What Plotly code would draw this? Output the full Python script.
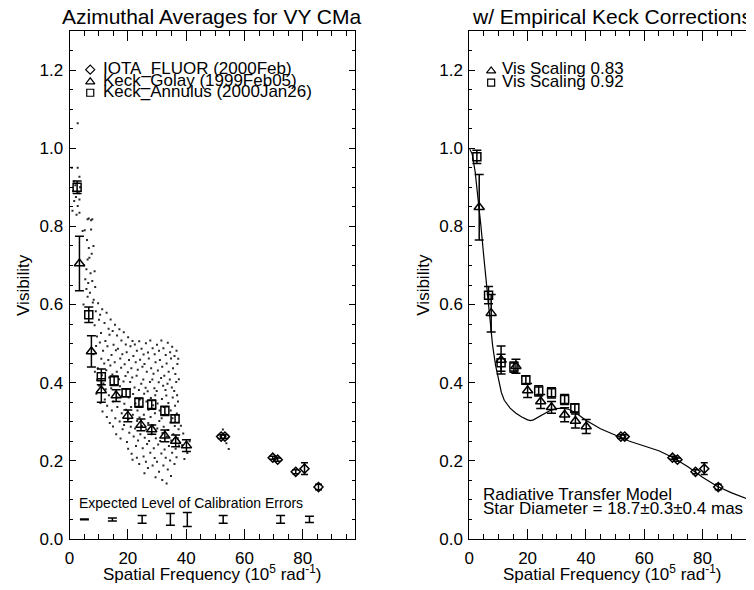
import plotly.graph_objects as go

# ---------------- data ----------------
# Keck_Annulus (squares) raw azimuthal averages
sq_x = [2.6, 6.6, 10.9, 15.3, 19.4, 23.8, 28.2, 32.7, 36.2]
sq_y = [0.900, 0.574, 0.415, 0.405, 0.374, 0.349, 0.344, 0.328, 0.308]
sq_err = [0.016, 0.020, 0.020, 0.012, 0.010, 0.012, 0.012, 0.012, 0.010]

# Keck_Golay (triangles) raw azimuthal averages
tri_x = [3.4, 7.5, 10.9, 16.0, 20.0, 24.5, 28.2, 32.7, 36.4, 40.1]
tri_y = [0.705, 0.480, 0.380, 0.367, 0.315, 0.292, 0.280, 0.264, 0.251, 0.239]
tri_err = [0.070, 0.040, 0.030, 0.015, 0.015, 0.015, 0.012, 0.015, 0.015, 0.015]

# IOTA_FLUOR (diamonds)
dia_x = [52.0, 53.3, 69.7, 71.4, 77.6, 80.6, 85.4]
dia_y = [0.262, 0.262, 0.208, 0.203, 0.172, 0.180, 0.133]
dia_err = [0.005, 0.005, 0.004, 0.004, 0.005, 0.015, 0.007]

# Corrected Keck values (right panel)
sq_corr_y = [0.978, 0.624, 0.451, 0.440, 0.407, 0.379, 0.374, 0.357, 0.335]
sq_corr_err = [0.017, 0.022, 0.022, 0.013, 0.011, 0.013, 0.013, 0.013, 0.011]
tri_corr_y = [0.849, 0.578, 0.458, 0.442, 0.380, 0.352, 0.337, 0.318, 0.302, 0.288]
tri_corr_err = [0.084, 0.048, 0.036, 0.018, 0.018, 0.018, 0.015, 0.018, 0.018, 0.018]

# Expected calibration error bars
cal_x = [5.1, 14.7, 24.9, 34.6, 40.4, 52.7, 72.4, 82.3]
cal_err = [0.001, 0.004, 0.010, 0.015, 0.018, 0.010, 0.010, 0.008]
cal_level = [0.05] * len(cal_x)

# Radiative transfer model curve
model_x = [0, 1, 2, 3, 4, 5, 6, 7, 8, 9, 10, 11, 12, 14, 16, 18, 20, 21, 22, 24, 26,
           28, 30, 32, 34, 36, 38, 40, 45, 50, 55, 60, 65, 70, 75, 80, 85, 90, 95, 98]
model_y = [1.0, 0.985, 0.94, 0.875, 0.80, 0.72, 0.64, 0.56, 0.495, 0.445, 0.405, 0.375,
           0.355, 0.335, 0.322, 0.312, 0.305, 0.303, 0.305, 0.314, 0.323, 0.330, 0.334,
           0.335, 0.332, 0.325, 0.315, 0.304, 0.282, 0.265, 0.250, 0.238, 0.226, 0.208,
           0.185, 0.158, 0.135, 0.118, 0.104, 0.095]

# Raw visibility scatter (individual points)
raw_dots = [
    (2.8, 1.064), (0.8, 0.95), (2.8, 0.95), (3.4, 0.927), (1.5, 0.915), (2.0, 0.905),
    (3.6, 0.90), (1.2, 0.89), (3.2, 0.885), (2.2, 0.875), (1.6, 0.865), (3.4, 0.869),
    (2.8, 0.852), (3.4, 0.835), (1.0, 0.84), (2.4, 0.83),
    (6.2, 0.818), (6.6, 0.82), (7.4, 0.816), (7.8, 0.818), (4.5, 0.788), (5.2, 0.79),
    (7.4, 0.792), (6.0, 0.765), (6.6, 0.745), (8.2, 0.75), (7.6, 0.73), (6.8, 0.72),
    (6.2, 0.715), (5.0, 0.70), (5.8, 0.69), (7.2, 0.68), (8.6, 0.685), (5.4, 0.665),
    (6.4, 0.655), (7.8, 0.66), (8.8, 0.645), (5.8, 0.64), (7.0, 0.63), (6.2, 0.62),
    (4.8, 0.60), (8.0, 0.605),
    (8.3, 0.612), (8.6, 0.547), (8.2, 0.473), (8.7, 0.428),
    (9.0, 0.583), (9.4, 0.518), (9.1, 0.494), (9.5, 0.407), (9.2, 0.372),
    (9.8, 0.603), (10.1, 0.561), (9.7, 0.437), (10.2, 0.392),
    (10.5, 0.574), (10.8, 0.527), (10.4, 0.503), (10.9, 0.461), (10.6, 0.348),
    (11.2, 0.588), (11.5, 0.482), (11.1, 0.419), (11.6, 0.398), (11.3, 0.326),
    (12.0, 0.553), (12.3, 0.507), (11.9, 0.449), (12.4, 0.383), (12.1, 0.357),
    (12.7, 0.579), (13.0, 0.493), (12.6, 0.432), (12.9, 0.341), (12.8, 0.312),
    (13.4, 0.538), (13.7, 0.523), (13.3, 0.458), (13.6, 0.413), (13.5, 0.368), (13.8, 0.297),
    (14.1, 0.562), (14.4, 0.471), (14.0, 0.444), (14.3, 0.386), (14.5, 0.329),
    (14.8, 0.532), (15.1, 0.497), (14.7, 0.421), (15.0, 0.352), (14.9, 0.288),
    (15.6, 0.548), (15.9, 0.483), (15.5, 0.452), (15.8, 0.377), (15.7, 0.309), (16.0, 0.268),
    (16.3, 0.521), (16.6, 0.487), (16.2, 0.428), (16.5, 0.362), (16.4, 0.338),
    (17.1, 0.537), (17.4, 0.462), (17.0, 0.409), (17.3, 0.391), (17.2, 0.301), (17.5, 0.257),
    (17.8, 0.508), (18.1, 0.473), (17.7, 0.438), (18.0, 0.367), (17.9, 0.322), (18.2, 0.281),
    (18.6, 0.529), (18.9, 0.447), (18.5, 0.403), (18.8, 0.346), (18.7, 0.292),
    (19.3, 0.498), (19.6, 0.478), (19.2, 0.417), (19.5, 0.383), (19.4, 0.331), (19.7, 0.248),
    (20.1, 0.516), (20.4, 0.458), (20.0, 0.427), (20.3, 0.362), (20.2, 0.307), (20.5, 0.272),
    (20.1, 0.231),
    (20.9, 0.493), (21.2, 0.437), (20.8, 0.402), (21.1, 0.338), (21.0, 0.287), (21.3, 0.218),
    (21.6, 0.507), (21.9, 0.468), (21.5, 0.413), (21.8, 0.371), (21.7, 0.318), (22.0, 0.262),
    (21.6, 0.203),
    (22.4, 0.498), (22.7, 0.452), (22.3, 0.388), (22.6, 0.347), (22.5, 0.283), (22.8, 0.238),
    (23.1, 0.482), (23.4, 0.433), (23.0, 0.418), (23.3, 0.329), (23.2, 0.302), (23.5, 0.252),
    (23.1, 0.208),
    (23.9, 0.506), (24.2, 0.459), (23.8, 0.381), (24.1, 0.357), (24.0, 0.311), (24.3, 0.268),
    (23.9, 0.192),
    (24.7, 0.487), (25.0, 0.441), (24.6, 0.397), (24.9, 0.338), (24.8, 0.289), (25.1, 0.232),
    (25.4, 0.472), (25.7, 0.448), (25.3, 0.408), (25.6, 0.372), (25.5, 0.318), (25.8, 0.259),
    (25.4, 0.211), (25.7, 0.168),
    (26.2, 0.501), (26.5, 0.428), (26.1, 0.387), (26.4, 0.352), (26.3, 0.281), (26.6, 0.243),
    (26.2, 0.198),
    (26.9, 0.477), (27.2, 0.462), (26.8, 0.378), (27.1, 0.331), (27.0, 0.297), (27.3, 0.251),
    (26.9, 0.182),
    (27.7, 0.508), (28.0, 0.437), (27.6, 0.402), (27.9, 0.361), (27.8, 0.312), (28.1, 0.268),
    (27.7, 0.221),
    (28.5, 0.488), (28.8, 0.423), (28.4, 0.408), (28.7, 0.342), (28.6, 0.291), (28.9, 0.232),
    (28.5, 0.188),
    (29.2, 0.473), (29.5, 0.452), (29.1, 0.386), (29.4, 0.368), (29.3, 0.322), (29.6, 0.258),
    (29.2, 0.207), (29.5, 0.158),
    (30.0, 0.497), (30.3, 0.431), (29.9, 0.379), (30.2, 0.347), (30.1, 0.283), (30.4, 0.242),
    (30.0, 0.198),
    (30.7, 0.482), (31.0, 0.458), (30.6, 0.401), (30.9, 0.329), (30.8, 0.302), (31.1, 0.251),
    (30.7, 0.172),
    (31.5, 0.508), (31.8, 0.441), (31.4, 0.412), (31.7, 0.358), (31.6, 0.309), (31.9, 0.271),
    (31.5, 0.219), (31.8, 0.151),
    (32.2, 0.488), (32.5, 0.418), (32.1, 0.392), (32.4, 0.338), (32.3, 0.287), (32.6, 0.229),
    (32.2, 0.188),
    (33.0, 0.471), (33.3, 0.449), (32.9, 0.381), (33.2, 0.367), (33.1, 0.318), (33.4, 0.262),
    (33.0, 0.208), (33.3, 0.142),
    (33.7, 0.502), (34.0, 0.428), (33.6, 0.397), (33.9, 0.348), (33.8, 0.279), (34.1, 0.238),
    (33.7, 0.178),
    (34.5, 0.478), (34.8, 0.462), (34.4, 0.408), (34.7, 0.329), (34.6, 0.298), (34.9, 0.252),
    (34.5, 0.201), (34.8, 0.161),
    (35.2, 0.492), (35.5, 0.437), (35.1, 0.388), (35.4, 0.362), (35.3, 0.309), (35.6, 0.268),
    (35.2, 0.221),
    (36.0, 0.468), (36.3, 0.422), (35.9, 0.379), (36.2, 0.341), (36.1, 0.289), (36.4, 0.231),
    (36.0, 0.192),
    (36.7, 0.482), (37.0, 0.448), (36.6, 0.402), (36.9, 0.368), (36.8, 0.321), (37.1, 0.258),
    (36.7, 0.209),
    (37.3, 0.461), (37.5, 0.409), (37.2, 0.352), (37.4, 0.281), (37.5, 0.239),
    (38.2, 0.29), (39.0, 0.27), (38.6, 0.24), (40.4, 0.22), (39.4, 0.205), (41.2, 0.25),
    (52.6, 0.28), (53.8, 0.245), (54.6, 0.23),
]

left_legend = ["IOTA_FLUOR (2000Feb)", "Keck_Golay (1999Feb05)", "Keck_Annulus (2000Jan26)"]
right_legend = ["Vis Scaling 0.83", "Vis Scaling 0.92"]

# ---------------- figure ----------------
# the page has an 8px body margin, so the figure is sized to end at the window edge
OFF = 8
W, H = 754 - OFF, 590 - OFF
FONT = "Liberation Sans, Arial, Helvetica, sans-serif"
fig = go.Figure()


def err(vals, w=4.5, t=1.5):
    return dict(type="data", array=vals, visible=True, color="black", thickness=t, width=w)


# left panel
fig.add_trace(go.Scatter(x=[d[0] for d in raw_dots], y=[d[1] for d in raw_dots], mode="markers",
                         marker=dict(symbol="square", size=2, color="#2a2a2a", line=dict(width=0)),
                         xaxis="x", yaxis="y"))
fig.add_trace(go.Scatter(x=sq_x, y=sq_y, error_y=err(sq_err), mode="markers",
                         marker=dict(symbol="square-open", size=8, color="black", line=dict(width=1.5)),
                         xaxis="x", yaxis="y"))
fig.add_trace(go.Scatter(x=tri_x, y=tri_y, error_y=err(tri_err), mode="markers",
                         marker=dict(symbol="triangle-up-open", size=9, color="black", line=dict(width=1.5)),
                         xaxis="x", yaxis="y"))
fig.add_trace(go.Scatter(x=dia_x, y=dia_y, error_y=err(dia_err, w=3.5), mode="markers",
                         marker=dict(symbol="diamond-open", size=7, color="black", line=dict(width=1.5)),
                         xaxis="x", yaxis="y"))
fig.add_trace(go.Scatter(x=cal_x, y=cal_level, error_y=err(cal_err, w=4.5), mode="markers",
                         marker=dict(size=1, color="rgba(0,0,0,0)"), xaxis="x", yaxis="y"))
# left legend symbols
fig.add_trace(go.Scatter(x=[7.1], y=[1.201], mode="markers",
                         marker=dict(symbol="diamond-open", size=7, color="black", line=dict(width=1.2)),
                         xaxis="x", yaxis="y"))
fig.add_trace(go.Scatter(x=[7.1], y=[1.170], mode="markers",
                         marker=dict(symbol="triangle-up-open", size=8, color="black", line=dict(width=1.2)),
                         xaxis="x", yaxis="y"))
fig.add_trace(go.Scatter(x=[7.1], y=[1.142], mode="markers",
                         marker=dict(symbol="square-open", size=7, color="black", line=dict(width=1.2)),
                         xaxis="x", yaxis="y"))

# right panel
fig.add_trace(go.Scatter(x=model_x, y=model_y, mode="lines", line=dict(color="black", width=1.2),
                         xaxis="x2", yaxis="y2"))
fig.add_trace(go.Scatter(x=sq_x, y=sq_corr_y, error_y=err(sq_corr_err), mode="markers",
                         marker=dict(symbol="square-open", size=8, color="black", line=dict(width=1.5)),
                         xaxis="x2", yaxis="y2"))
fig.add_trace(go.Scatter(x=tri_x, y=tri_corr_y, error_y=err(tri_corr_err), mode="markers",
                         marker=dict(symbol="triangle-up-open", size=9, color="black", line=dict(width=1.5)),
                         xaxis="x2", yaxis="y2"))
fig.add_trace(go.Scatter(x=dia_x, y=dia_y, error_y=err(dia_err, w=3.5), mode="markers",
                         marker=dict(symbol="diamond-open", size=7, color="black", line=dict(width=1.5)),
                         xaxis="x2", yaxis="y2"))
fig.add_trace(go.Scatter(x=[7.5], y=[1.198], mode="markers",
                         marker=dict(symbol="triangle-up-open", size=8, color="black", line=dict(width=1.2)),
                         xaxis="x2", yaxis="y2"))
fig.add_trace(go.Scatter(x=[7.5], y=[1.168], mode="markers",
                         marker=dict(symbol="square-open", size=7, color="black", line=dict(width=1.2)),
                         xaxis="x2", yaxis="y2"))


def xax(domain, rng, anchor):
    return dict(domain=domain, range=rng, anchor=anchor, tickmode="array", tickvals=[0, 20, 40, 60, 80],
                ticks="inside", ticklen=10, tickwidth=1, tickcolor="black", mirror="ticks",
                showline=True, linecolor="black", linewidth=1, showgrid=False, zeroline=False,
                ticklabelstandoff=4, tickfont=dict(size=17),
                minor=dict(dtick=5, tick0=0, ticks="inside", ticklen=5, tickcolor="black", showgrid=False))


def yax(anchor):
    return dict(domain=[0, 1], range=[0, 1.3], anchor=anchor, tickmode="array",
                tickvals=[0, 0.2, 0.4, 0.6, 0.8, 1.0, 1.2],
                ticktext=["0.0", "0.2", "0.4", "0.6", "0.8", "1.0", "1.2"],
                ticks="inside", ticklen=6, tickwidth=1, tickcolor="black", mirror="ticks",
                showline=True, linecolor="black", linewidth=1, showgrid=False, zeroline=False,
                ticklabelstandoff=2, tickfont=dict(size=17),
                minor=dict(dtick=0.05, tick0=0, ticks="inside", ticklen=3, tickcolor="black", showgrid=False))


def xp(px):  # page pixel -> paper x
    return (px - OFF) / W


def yp(py):  # page pixel -> paper y (plot area spans page y 31..539)
    return (539 - py) / 508


L0, L1 = xp(65), xp(353)
R0, R1 = xp(468), 1.0
fig.update_layout(
    width=W, height=H, margin=dict(l=0, r=0, t=31 - OFF, b=H - (539 - OFF)),
    plot_bgcolor="white", paper_bgcolor="white", showlegend=False,
    font=dict(family=FONT, size=17, color="black"),
    xaxis=xax([L0, L1], [0, 98], "y"),
    yaxis=yax("x"),
    xaxis2=xax([R0, R1], [0, 98 * (754 - 468) / 288], "y2"),
    yaxis2=yax("x2"),
)

ann = []
ann.append(dict(text="Azimuthal Averages for VY CMa", x=xp(209), y=yp(16), xref="paper", yref="paper",
                showarrow=False, font=dict(size=21), xanchor="center", yanchor="middle"))
ann.append(dict(text="w/ Empirical Keck Corrections", x=xp(612), y=yp(16), xref="paper", yref="paper",
                showarrow=False, font=dict(size=21), xanchor="center", yanchor="middle"))
xt = "Spatial Frequency (10<sup>5</sup> rad<sup>-1</sup>)"
ann.append(dict(text=xt, x=xp(209), y=yp(573), xref="paper", yref="paper", showarrow=False,
                font=dict(size=17), xanchor="center", yanchor="middle"))
ann.append(dict(text=xt, x=xp(612), y=yp(573), xref="paper", yref="paper", showarrow=False,
                font=dict(size=17), xanchor="center", yanchor="middle"))
ann.append(dict(text="Visibility", x=xp(18), y=0.5, xref="paper", yref="paper", showarrow=False,
                textangle=-90, font=dict(size=17), xanchor="center", yanchor="middle"))
ann.append(dict(text="Visibility", x=xp(421), y=0.5, xref="paper", yref="paper", showarrow=False,
                textangle=-90, font=dict(size=17), xanchor="center", yanchor="middle"))
for t, yy in zip(left_legend, [1.203, 1.174, 1.146]):
    ann.append(dict(text=t, x=10.9, y=yy, xref="x", yref="y", showarrow=False, font=dict(size=17),
                    xanchor="left", yanchor="middle"))
for t, yy in zip(right_legend, [1.203, 1.172]):
    ann.append(dict(text=t, x=10.5, y=yy, xref="x2", yref="y2", showarrow=False, font=dict(size=17),
                    xanchor="left", yanchor="middle"))
ann.append(dict(text="Expected Level of Calibration Errors", x=2.7, y=0.092, xref="x", yref="y",
                showarrow=False, font=dict(size=14), xanchor="left", yanchor="middle"))
ann.append(dict(text="Radiative Transfer Model", x=4.1, y=0.113, xref="x2", yref="y2",
                showarrow=False, font=dict(size=17), xanchor="left", yanchor="middle"))
ann.append(dict(text="Star Diameter = 18.7±0.3±0.4 mas", x=4.1, y=0.079, xref="x2", yref="y2",
                showarrow=False, font=dict(size=17), xanchor="left", yanchor="middle"))
fig.update_layout(annotations=ann)

fig.write_html("out.html")
